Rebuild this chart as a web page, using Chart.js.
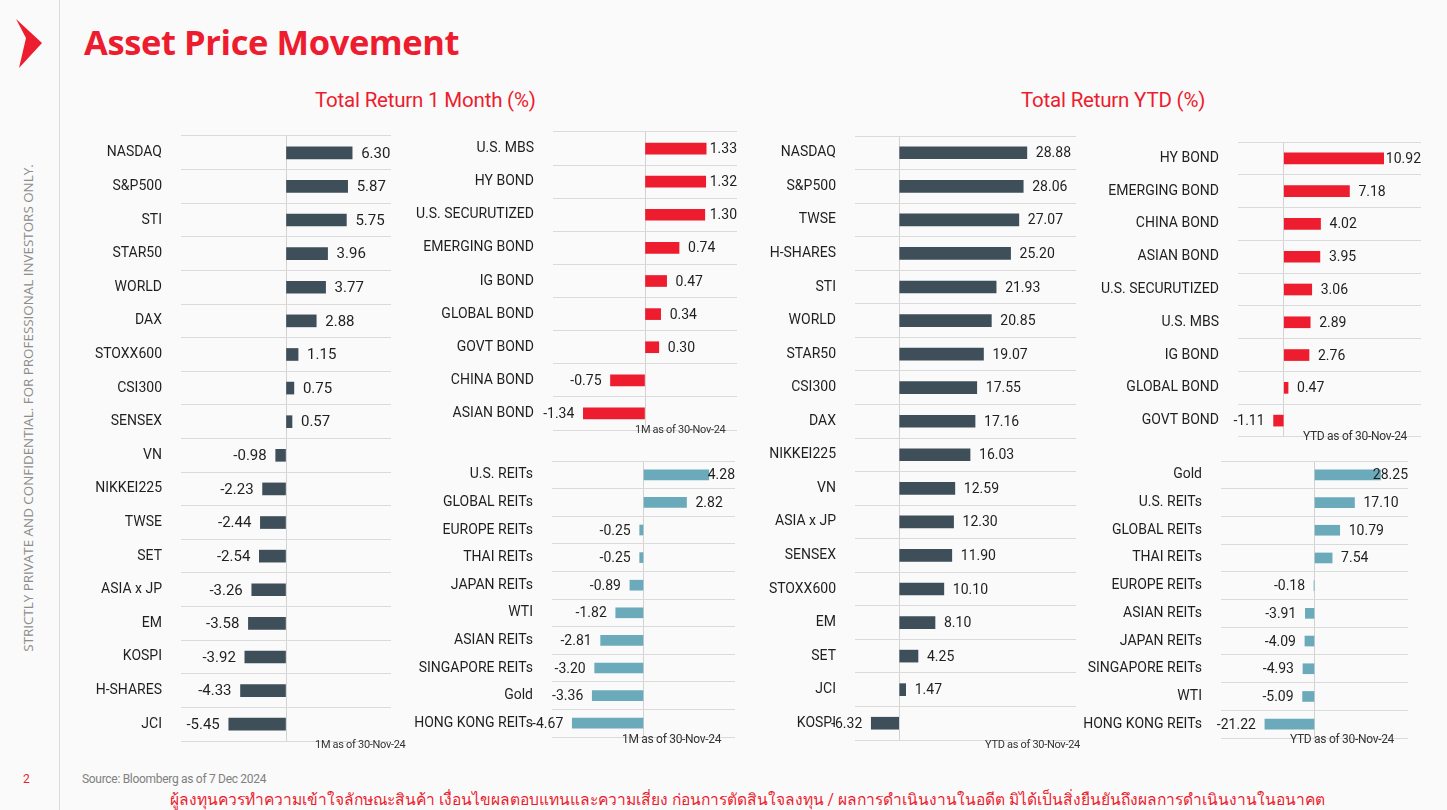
<!DOCTYPE html>
<html>
<head>
<meta charset="utf-8">
<script src="https://cdn.jsdelivr.net/npm/chart.js@4.4.1/dist/chart.umd.min.js"></script>
<style>
  html, body { margin: 0; padding: 0; }
  body { width: 1447px; height: 810px; background: #fafafa; position: relative; overflow: hidden; font-family: Roboto, "Liberation Sans", sans-serif; }
  canvas { position: absolute; }
  .txt { position: absolute; white-space: nowrap; line-height: 1; }
  #sideLine { position: absolute; left: 59px; top: 0; width: 1px; height: 810px; background: #dcdcdc; }
  #title { left: 84px; top: 25px; font-family: "Open Sans", sans-serif; font-weight: 700; font-size: 34.5px; color: #ed1c2e; letter-spacing: -0.4px; }
  .sub { font-size: 20.5px; color: #ed1c2e; letter-spacing: -0.2px; top: 90px; }
  #vert { left: 29px; top: 408px; transform: translate(-50%, -50%) rotate(-90deg); font-family: "Open Sans", sans-serif; font-size: 13.4px; color: #8c8c8c; }
  .foot { font-size: 11px; color: #333; letter-spacing: -0.3px; }
  #pageNo { left: 23px; top: 773px; font-size: 12px; color: #ed1c2e; }
  #source { left: 82px; top: 773px; font-size: 12px; color: #808080; letter-spacing: -0.3px; }
  #thai { left: 170px; top: 793px; font-size: 15.6px; color: #ed1c2e; }
</style>
</head>
<body>
<div id="sideLine"></div>
<svg style="position:absolute;left:0;top:0" width="60" height="80">
  <polygon points="16,19 42,43 19,68 26,38" fill="#ed1c2e"/>
</svg>
<div class="txt" id="title">Asset Price Movement</div>
<div class="txt sub" style="left:315px">Total Return 1 Month (%)</div>
<div class="txt sub" style="left:1021px">Total Return YTD (%)</div>
<div class="txt" id="vert">STRICTLY PRIVATE AND CONFIDENTIAL. FOR PROFESSIONAL INVESTORS ONLY.</div>

<canvas id="eq1m"></canvas>
<canvas id="bond1m"></canvas>
<canvas id="reit1m"></canvas>
<canvas id="eqytd"></canvas>
<canvas id="bondytd"></canvas>
<canvas id="reitytd"></canvas>

<div class="txt foot" style="left:315px;top:739px">1M as of 30-Nov-24</div>
<div class="txt foot" style="left:635px;top:424px">1M as of 30-Nov-24</div>
<div class="txt foot" style="left:622px;top:733px;font-size:12px">1M as of 30-Nov-24</div>
<div class="txt foot" style="left:985px;top:739px">YTD as of 30-Nov-24</div>
<div class="txt foot" style="left:1303px;top:430px;font-size:12px">YTD as of 30-Nov-24</div>
<div class="txt foot" style="left:1290px;top:733px;font-size:12px">YTD as of 30-Nov-24</div>

<div class="txt" id="pageNo">2</div>
<div class="txt" id="source">Source: Bloomberg as of 7 Dec 2024</div>
<div class="txt" id="thai">ผู้ลงทุนควรทำความเข้าใจลักษณะสินค้า เงื่อนไขผลตอบแทนและความเสี่ยง ก่อนการตัดสินใจลงทุน / ผลการดำเนินงานในอดีต มิได้เป็นสิ่งยืนยันถึงผลการดำเนินงานในอนาคต</div>

<script>
// Equities - 1 month
const eq1mLabels = ['NASDAQ', 'S&P500', 'STI', 'STAR50', 'WORLD', 'DAX', 'STOXX600', 'CSI300', 'SENSEX',
  'VN', 'NIKKEI225', 'TWSE', 'SET', 'ASIA x JP', 'EM', 'KOSPI', 'H-SHARES', 'JCI'];
const eq1mValues = [6.30, 5.87, 5.75, 3.96, 3.77, 2.88, 1.15, 0.75, 0.57,
  -0.98, -2.23, -2.44, -2.54, -3.26, -3.58, -3.92, -4.33, -5.45];

// Bonds - 1 month
const bond1mLabels = ['U.S. MBS', 'HY BOND', 'U.S. SECURUTIZED', 'EMERGING BOND', 'IG BOND',
  'GLOBAL BOND', 'GOVT BOND', 'CHINA BOND', 'ASIAN BOND'];
const bond1mValues = [1.33, 1.32, 1.30, 0.74, 0.47, 0.34, 0.30, -0.75, -1.34];

// REITs & commodities - 1 month
const reit1mLabels = ['U.S. REITs', 'GLOBAL REITs', 'EUROPE REITs', 'THAI REITs', 'JAPAN REITs', 'WTI',
  'ASIAN REITs', 'SINGAPORE REITs', 'Gold', 'HONG KONG REITs'];
const reit1mValues = [4.28, 2.82, -0.25, -0.25, -0.89, -1.82, -2.81, -3.20, -3.36, -4.67];

// Equities - YTD
const eqytdLabels = ['NASDAQ', 'S&P500', 'TWSE', 'H-SHARES', 'STI', 'WORLD', 'STAR50', 'CSI300', 'DAX',
  'NIKKEI225', 'VN', 'ASIA x JP', 'SENSEX', 'STOXX600', 'EM', 'SET', 'JCI', 'KOSPI'];
const eqytdValues = [28.88, 28.06, 27.07, 25.20, 21.93, 20.85, 19.07, 17.55, 17.16,
  16.03, 12.59, 12.30, 11.90, 10.10, 8.10, 4.25, 1.47, -6.32];

// Bonds - YTD
const bondytdLabels = ['HY BOND', 'EMERGING BOND', 'CHINA BOND', 'ASIAN BOND', 'U.S. SECURUTIZED',
  'U.S. MBS', 'IG BOND', 'GLOBAL BOND', 'GOVT BOND'];
const bondytdValues = [10.92, 7.18, 4.02, 3.95, 3.06, 2.89, 2.76, 0.47, -1.11];

// REITs & commodities - YTD
const reitytdLabels = ['Gold', 'U.S. REITs', 'GLOBAL REITs', 'THAI REITs', 'EUROPE REITs', 'ASIAN REITs',
  'JAPAN REITs', 'SINGAPORE REITs', 'WTI', 'HONG KONG REITs'];
const reitytdValues = [28.25, 17.10, 10.79, 7.54, -0.18, -3.91, -4.09, -4.93, -5.09, -21.22];

const DARK = '#3f4f5a';
const RED = '#ed1c2e';
const TEAL = '#6aaabb';
const LABEL_W = 150; // room for category names left of each plot

// value labels at the end of each bar, pulled back inside when they hit the right edge
const valueLabels = {
  id: 'valueLabels',
  afterDatasetsDraw(chart, args, opts) {
    const ctx = chart.ctx;
    const right = chart.chartArea.right;
    ctx.save();
    ctx.font = opts.size + 'px Roboto, "Liberation Sans", sans-serif';
    ctx.fillStyle = '#1f1f1f';
    ctx.textBaseline = 'middle';
    chart.getDatasetMeta(0).data.forEach((bar, i) => {
      const v = chart.data.datasets[0].data[i];
      const txt = v.toFixed(2);
      const w = ctx.measureText(txt).width;
      if (v >= 0) {
        ctx.textAlign = 'left';
        ctx.fillText(txt, Math.min(bar.x + 9, right - w), bar.y + 1);
      } else {
        ctx.textAlign = 'right';
        ctx.fillText(txt, bar.x - 9, bar.y + 1);
      }
    });
    ctx.restore();
  }
};

// one horizontal bar panel; box = plot area in page pixels
function makePanel(id, labels, values, color, box, min, max, step, thick, valSize) {
  const cv = document.getElementById(id);
  const left = box.left - LABEL_W;
  cv.style.left = left + 'px';
  cv.style.top = (box.top - 4) + 'px';
  cv.width = box.right - left + 10;
  cv.height = box.bottom - box.top + 8;

  new Chart(cv, {
    type: 'bar',
    data: {
      labels: labels,
      datasets: [{
        data: values,
        backgroundColor: color,
        barThickness: thick
      }]
    },
    options: {
      indexAxis: 'y',
      responsive: false,
      animation: false,
      layout: { padding: { top: 4, bottom: 4, right: 10, left: 0 } },
      scales: {
        x: {
          min: min,
          max: max,
          ticks: { display: false, stepSize: step },
          border: { display: false },
          grid: {
            drawTicks: false,
            color: (c) => (c.tick && c.tick.value === 0 ? '#d2d2d2' : 'rgba(0,0,0,0)')
          }
        },
        y: {
          afterFit: (scale) => {
            scale.width = LABEL_W;
            scale.paddingTop = 0;
            scale.paddingBottom = 0;
          },
          border: { display: false },
          // invisible tick marks give the gap between names and plot
          grid: { drawTicks: true, tickLength: 19, tickColor: 'rgba(0,0,0,0)', color: '#dadada' },
          ticks: {
            padding: 0,
            color: '#1f1f1f',
            font: { family: 'Roboto, "Liberation Sans", sans-serif', size: 14 }
          }
        }
      },
      plugins: {
        legend: { display: false },
        tooltip: { enabled: false },
        valueLabels: { size: valSize }
      }
    },
    plugins: [valueLabels]
  });
}

makePanel('eq1m', eq1mLabels, eq1mValues, DARK, { left: 181, right: 391, top: 136, bottom: 741 }, -10, 10, 5, 12, 15);
makePanel('bond1m', bond1mLabels, bond1mValues, RED, { left: 553, right: 737, top: 132, bottom: 430 }, -2, 2, 1, 11, 14);
makePanel('reit1m', reit1mLabels, reit1mValues, TEAL, { left: 552, right: 735, top: 461, bottom: 737 }, -6, 6, 2, 10, 14);
makePanel('eqytd', eqytdLabels, eqytdValues, DARK, { left: 855, right: 1076, top: 136, bottom: 740 }, -10, 40, 10, 12, 14);
makePanel('bondytd', bondytdLabels, bondytdValues, RED, { left: 1238, right: 1421, top: 142, bottom: 437 }, -5, 15, 5, 11, 14);
makePanel('reitytd', reitytdLabels, reitytdValues, TEAL, { left: 1221, right: 1408, top: 461, bottom: 738 }, -40, 40, 10, 10, 14);
</script>
</body>
</html>
